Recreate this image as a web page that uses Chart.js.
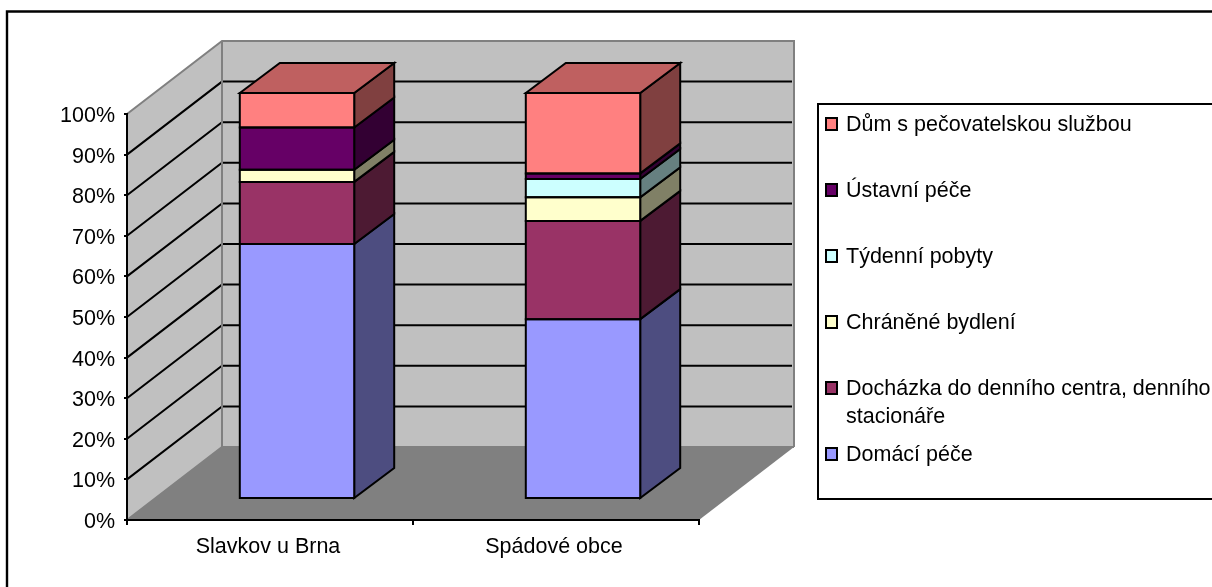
<!DOCTYPE html>
<html><head><meta charset="utf-8">
<style>html,body{margin:0;padding:0;background:#fff}#w{position:relative;width:1212px;height:587px;overflow:hidden}canvas{display:block}</style>
<script src="https://cdn.jsdelivr.net/npm/chart.js@4/dist/chart.umd.min.js"></script>
</head><body><div id="w"><canvas id="c" width="1212" height="587"></canvas></div>
<script>
const categories = ["Slavkov u Brna", "Spádové obce"];
const domaciPece = [62.8, 44.3];
const dochazka = [15.3, 24.2];
const chranene = [3.0, 5.8];
const tydenni = [0, 4.5];
const ustavni = [10.4, 1.4];
const dum = [8.5, 19.8];
const yTicks = [0,10,20,30,40,50,60,70,80,90,100];
const seriesNames = ["Domácí péče","Docházka do denního centra, denního stacionáře","Chráněné bydlení","Týdenní pobyty","Ústavní péče","Dům s pečovatelskou službou"];
const seriesValues = [domaciPece,dochazka,chranene,tydenni,ustavni,dum];
const seriesColors = ["#9999FF","#993366","#FFFFCC","#CCFFFF","#660066","#FF8080"];
const sideColors = ["#4D4D80","#4D1A33","#808066","#668080","#330033","#804040"];
const topColor = "#BF6060";
const FONTSIZE = 21.5;
const FONTFAM = "'Liberation Sans', Arial, sans-serif";
const FONT = FONTSIZE+"px "+FONTFAM;
const LINE = 2;
const WALL_DX=95, WALL_DY=-73, BAR_DX=27, BAR_DY=-21, DEPTH_DX=40, DEPTH_DY=-30;

function poly(ctx,pts,fill,stroke,lw){
  ctx.beginPath();pts.forEach((p,i)=>i?ctx.lineTo(p[0],p[1]):ctx.moveTo(p[0],p[1]));ctx.closePath();
  if(fill){ctx.fillStyle=fill;ctx.fill();}
  if(stroke){ctx.strokeStyle=stroke;ctx.lineWidth=lw;ctx.lineJoin='miter';ctx.stroke();}
}
const scene={
  id:'scene',
  beforeDraw(chart){
    const {ctx,chartArea:a,scales:{y}}=chart;
    ctx.save();
    ctx.fillStyle='#fff';ctx.fillRect(0,0,1212,587);
    ctx.strokeStyle='#000';ctx.lineWidth=2.4;
    ctx.beginPath();ctx.moveTo(7,587);ctx.lineTo(7,11.5);ctx.lineTo(1212,11.5);ctx.stroke();
    const l=a.left,r=a.right,t=a.top,b=a.bottom,dx=WALL_DX,dy=WALL_DY;
    poly(ctx,[[l,t],[l+dx,t+dy],[l+dx,b+dy],[l,b]],'#C0C0C0');
    poly(ctx,[[l+dx,t+dy],[r+dx,t+dy],[r+dx,b+dy],[l+dx,b+dy]],'#C0C0C0');
    poly(ctx,[[l,b],[l+dx,b+dy],[r+dx,b+dy],[r,b]],'#808080');
    ctx.strokeStyle='#000';ctx.lineWidth=LINE;
    yTicks.filter(v=>v>0&&v<100).forEach(v=>{
      const p=y.getPixelForValue(v);
      ctx.beginPath();ctx.moveTo(l,p);ctx.lineTo(l+dx,p+dy);ctx.lineTo(r+dx-2,p+dy);ctx.stroke();
    });
    ctx.strokeStyle='#808080';ctx.lineWidth=2;
    ctx.beginPath();ctx.moveTo(l,t);ctx.lineTo(l+dx,t+dy);ctx.lineTo(r+dx,t+dy);ctx.lineTo(r+dx,b+dy);ctx.stroke();
    ctx.beginPath();ctx.moveTo(l+dx,t+dy);ctx.lineTo(l+dx,b+dy);ctx.stroke();
    ctx.beginPath();ctx.moveTo(l,b);ctx.lineTo(l+dx,b+dy);ctx.lineTo(r+dx,b+dy);ctx.stroke();
    ctx.restore();
  },
  beforeDatasetsDraw(chart){
    const ctx=chart.ctx;
    ctx.save();
    ctx.translate(BAR_DX,BAR_DY);
    chart.data.datasets.forEach((ds,i)=>{
      chart.getDatasetMeta(i).data.forEach((bar,j)=>{
        if(!seriesValues[i][j])return;
        const x=bar.x+bar.width/2,t=bar.y,b=bar.base;
        poly(ctx,[[x,t],[x+DEPTH_DX,t+DEPTH_DY],[x+DEPTH_DX,b+DEPTH_DY],[x,b]],sideColors[i],'#000',LINE);
        if(i===chart.data.datasets.length-1){
          const L=bar.x-bar.width/2;
          poly(ctx,[[L,t],[L+DEPTH_DX,t+DEPTH_DY],[x+DEPTH_DX,t+DEPTH_DY],[x,t]],topColor,'#000',LINE);
        }
      });
    });
  },
  afterDatasetsDraw(chart){
    const ctx=chart.ctx;
    // outline of each front face, centred on the segment boundary
    chart.data.datasets.forEach((ds,i)=>{
      chart.getDatasetMeta(i).data.forEach((bar,j)=>{
        if(!seriesValues[i][j])return;
        const L=bar.x-bar.width/2,R=bar.x+bar.width/2;
        poly(ctx,[[L,bar.y],[R,bar.y],[R,bar.base],[L,bar.base]],null,'#000',LINE);
      });
    });
    ctx.restore();
  },
  afterDraw(chart){
    const ctx=chart.ctx;
    ctx.save();
    ctx.strokeStyle='#000';ctx.lineWidth=2;
    ctx.beginPath();ctx.moveTo(1212,104);ctx.lineTo(818,104);ctx.lineTo(818,499);ctx.lineTo(1212,499);ctx.stroke();
    const rows=[[5,124],[4,190],[3,256],[2,322],[1,388],[0,454]];
    const lines={1:["Docházka do denního centra, denního","stacionáře"]};
    ctx.font=FONT;ctx.textBaseline='middle';ctx.textAlign='left';
    rows.forEach(([i,yy])=>{
      ctx.fillStyle=seriesColors[i];ctx.strokeStyle='#000';ctx.lineWidth=2;
      ctx.fillRect(826,yy-6,11,12);ctx.strokeRect(826,yy-6,11,12);
      ctx.fillStyle='#000';
      (lines[i]||[seriesNames[i]]).forEach((s,k)=>ctx.fillText(s,846,yy+1+k*28));
    });
    ctx.restore();
  }
};
const datasets=seriesNames.map((n,i)=>({label:n,data:seriesValues[i],backgroundColor:seriesColors[i],borderWidth:0,barPercentage:0.4,categoryPercentage:1}));
new Chart(document.getElementById('c'),{
  type:'bar',
  data:{labels:categories,datasets},
  plugins:[scene],
  options:{
    responsive:false,animation:false,
    layout:{padding:{left:0,top:114,right:513,bottom:0}},
    plugins:{legend:{display:false},title:{display:false},tooltip:{enabled:false}},
    scales:{
      x:{stacked:true,
        afterFit(s){s.height=67;},
        grid:{display:true,drawOnChartArea:false,drawTicks:true,tickLength:5,color:'#000',lineWidth:2},
        border:{color:'#000',width:2},
        ticks:{color:'#000',font:{family:FONTFAM,size:FONTSIZE},padding:9,labelOffset:-2,maxRotation:0}},
      y:{stacked:true,min:0,max:100,
        afterFit(s){s.width=127;},
        grid:{display:true,drawOnChartArea:false,drawTicks:true,tickLength:3,color:'#000',lineWidth:2},
        border:{color:'#000',width:2},
        afterBuildTicks(s){s.ticks=yTicks.map(v=>({value:v}));},
        ticks:{color:'#000',font:{family:FONTFAM,size:FONTSIZE},padding:9,labelOffset:2,callback:v=>v+'%'}}
    }
  }
});
</script></body></html>
